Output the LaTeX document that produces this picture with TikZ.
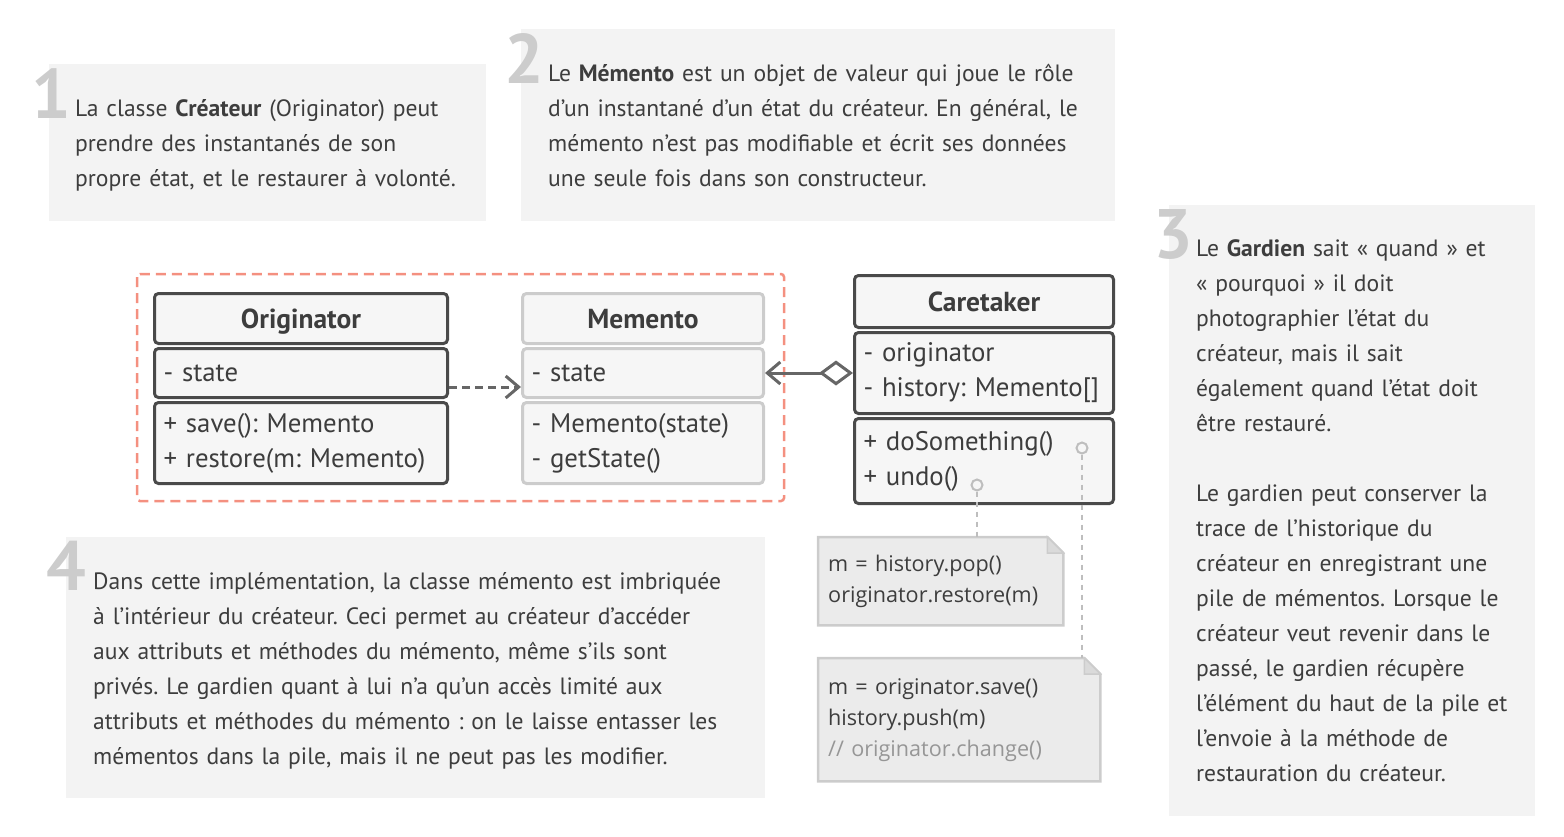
\documentclass[tikz,border=0pt]{standalone}
\usepackage{fontspec}
\setmainfont{PT Sans}
\newfontfamily\notefont{Open Sans}
\usetikzlibrary{arrows.meta,calc,positioning}
\definecolor{ink}{RGB}{61,61,61}
\definecolor{numgrey}{RGB}{204,204,204}
\definecolor{panelgrey}{RGB}{243,243,243}
\definecolor{boxfill}{RGB}{246,246,246}
\definecolor{boxline}{RGB}{74,74,74}
\definecolor{lightline}{RGB}{204,204,204}
\definecolor{notefill}{RGB}{235,235,235}
\definecolor{foldfill}{RGB}{218,218,218}
\definecolor{salmon}{RGB}{244,144,128}
\definecolor{arrowgrey}{RGB}{102,102,102}
\definecolor{dotgrey}{RGB}{190,190,190}
\definecolor{commentgrey}{RGB}{150,150,150}
\frenchspacing

\begin{document}
\begin{tikzpicture}[x=1pt,y=-1pt]
    \tikzset{%
      panel/.style={fill=panelgrey, draw=none},
      bignum/.style={anchor=base west, inner sep=0pt, text=numgrey,
        font=\fontsize{70}{70}\selectfont\bfseries},
      ptext/.style={anchor=base west, inner sep=0pt, text=ink, align=left,
        text width=#1, font=\fontsize{23.6}{35}\selectfont},
      comp/.style={draw=boxline, fill=boxfill, line width=3pt,
        rounded corners=4pt, text=ink, inner xsep=9pt, inner ysep=0pt,
        align=left, text width=#1, font=\fontsize{26.8}{35}\selectfont},
      head/.style={comp=#1, align=center, text height=22pt, text depth=3pt,
        font=\fontsize{27.5}{35}\selectfont\bfseries},
      note/.style={draw=none, inner xsep=10pt, inner ysep=0pt, align=left,
        text=ink, text width=#1, font=\notefont\fontsize{21.6}{31}\selectfont},
      notebox/.style={fill=notefill, draw=lightline, line width=2.5pt},
      dep/.style={arrowgrey, line width=3pt, dash pattern=on 8pt off 5pt,
        -{Straight Barb[length=13pt,width=22pt]}},
      agg/.style={arrowgrey, line width=3pt,
        {Diamond[fill=white,length=34pt,width=25pt]}-{Straight Barb[length=13pt,width=22pt]}},
      dotline/.style={dotgrey, line width=2.5pt, dash pattern=on 5pt off 5pt},
      hook/.style={circle, draw=dotgrey, fill=boxfill, line width=2pt,
        inner sep=0pt, minimum size=11pt},
    }
    \useasboundingbox (0,0) rectangle (1564,836);

    % panels
    \fill[panel] (49,64) rectangle (486,221);
    \fill[panel] (521,29) rectangle (1115,221);
    \fill[panel] (1169,205) rectangle (1535,816);
    \fill[panel] (66,537) rectangle (765,798);

    \node[bignum] (num1) at (31,118) {1};
    \node[bignum] (num2) at (504,83) {2};
    \node[bignum] (num3) at (1153,258) {3};
    \node[bignum] (num4) at (46,590) {4};

    \node[ptext=420pt] (txt1) at (75,116) {La classe \textbf{Créateur} (Originator) peut\\
      prendre des instantanés de son\\
      propre état, et le restaurer à volonté.};
    \node[ptext=580pt] (txt2) at (548,81) {Le \textbf{Mémento} est un objet de valeur qui joue le rôle\\
      d’un instantané d’un état du créateur. En général, le\\
      mémento n’est pas modifiable et écrit ses données\\
      une seule fois dans son constructeur.};
    \node[ptext=360pt] (txt3) at (1196,256) {Le \textbf{Gardien} sait « quand » et\\
      « pourquoi » il doit\\
      photographier l’état du\\
      créateur, mais il sait\\
      également quand l’état doit\\
      être restauré.\\[35pt]
      Le gardien peut conserver la\\
      trace de l’historique du\\
      créateur en enregistrant une\\
      pile de mémentos. Lorsque le\\
      créateur veut revenir dans le\\
      passé, le gardien récupère\\
      l’élément du haut de la pile et\\
      l’envoie à la méthode de\\
      restauration du créateur.};
    \node[ptext=680pt] (txt4) at (93,589) {Dans cette implémentation, la classe mémento est imbriquée\\
      à l’intérieur du créateur. Ceci permet au créateur d’accéder\\
      aux attributs et méthodes du mémento, même s’ils sont\\
      privés. Le gardien quant à lui n’a qu’un accès limité aux\\
      attributs et méthodes du mémento : on le laisse entasser les\\
      mémentos dans la pile, mais il ne peut pas les modifier.};

    % nested classes
    \draw[salmon, line width=2.5pt, dash pattern=on 10pt off 6pt,
      rounded corners=3pt] (137,274) rectangle (784,501);

    \node[head=275pt, minimum height=50pt, anchor=north west] (orighead) at (153,292) {Originator};
    \node[comp=275pt, minimum height=49pt, below=2pt of orighead] (origattr) {- state};
    \node[comp=275pt, minimum height=81pt, below=2pt of origattr] (origmeth) {+ save(): Memento\\+ restore(m: Memento)};

    \node[head=223pt, draw=lightline, minimum height=50pt, anchor=north west] (memhead) at (521,292) {Memento};
    \node[comp=223pt, draw=lightline, minimum height=49pt, below=2pt of memhead] (memattr) {- state};
    \node[comp=223pt, draw=lightline, minimum height=81pt, below=2pt of memattr] (memmeth) {- Memento(state)\\- getState()};

    \node[head=241pt, minimum height=52pt, anchor=north west] (carehead) at (853,274) {Caretaker};
    \node[comp=241pt, minimum height=81pt, below=2pt of carehead] (careattr) {- originator\\- history: Memento[]};
    \node[comp=241pt, minimum height=85pt, below=2pt of careattr] (caremeth) {+ doSomething()\\+ undo()};

    \draw[dep] ([yshift=-14pt]origattr.east) -- ([yshift=-14pt]memattr.west);
    \draw[agg] (careattr.west) -- (memattr.east);

    % notes
    \node[hook] (hookundo) at (977,485) {};
    \node[hook] (hookdo) at (1082,448) {};

    \node[note=225pt, minimum height=88pt, anchor=north west] (note1) at (818,537) {};
    \node[note=262pt, minimum height=123pt, anchor=north west] (note2) at (818,658) {};
    \filldraw[notebox] (note1.north west) -- ($(note1.north east)+(-16,0)$)
      -- ($(note1.north east)+(0,16)$) -- (note1.south east) -- (note1.south west) -- cycle;
    \filldraw[notebox, fill=foldfill, line width=1.5pt] ($(note1.north east)+(-16,0)$)
      -- ($(note1.north east)+(-16,16)$) -- ($(note1.north east)+(0,16)$) -- cycle;
    \filldraw[notebox] (note2.north west) -- ($(note2.north east)+(-16,0)$)
      -- ($(note2.north east)+(0,16)$) -- (note2.south east) -- (note2.south west) -- cycle;
    \filldraw[notebox, fill=foldfill, line width=1.5pt] ($(note2.north east)+(-16,0)$)
      -- ($(note2.north east)+(-16,16)$) -- ($(note2.north east)+(0,16)$) -- cycle;
    \node[note=225pt, minimum height=88pt, anchor=north west] (code1) at (note1.north west)
      {m = history.pop()\\originator.restore(m)};
    \node[note=262pt, minimum height=123pt, anchor=north west] (code2) at (note2.north west)
      {m = originator.save()\\history.push(m)\\\textcolor{commentgrey}{// originator.change()}};

    \draw[dotline] (hookundo) -- (hookundo |- note1.north);
    \draw[dotline] (hookdo) -- (hookdo |- note2.north);
\end{tikzpicture}
\end{document}
